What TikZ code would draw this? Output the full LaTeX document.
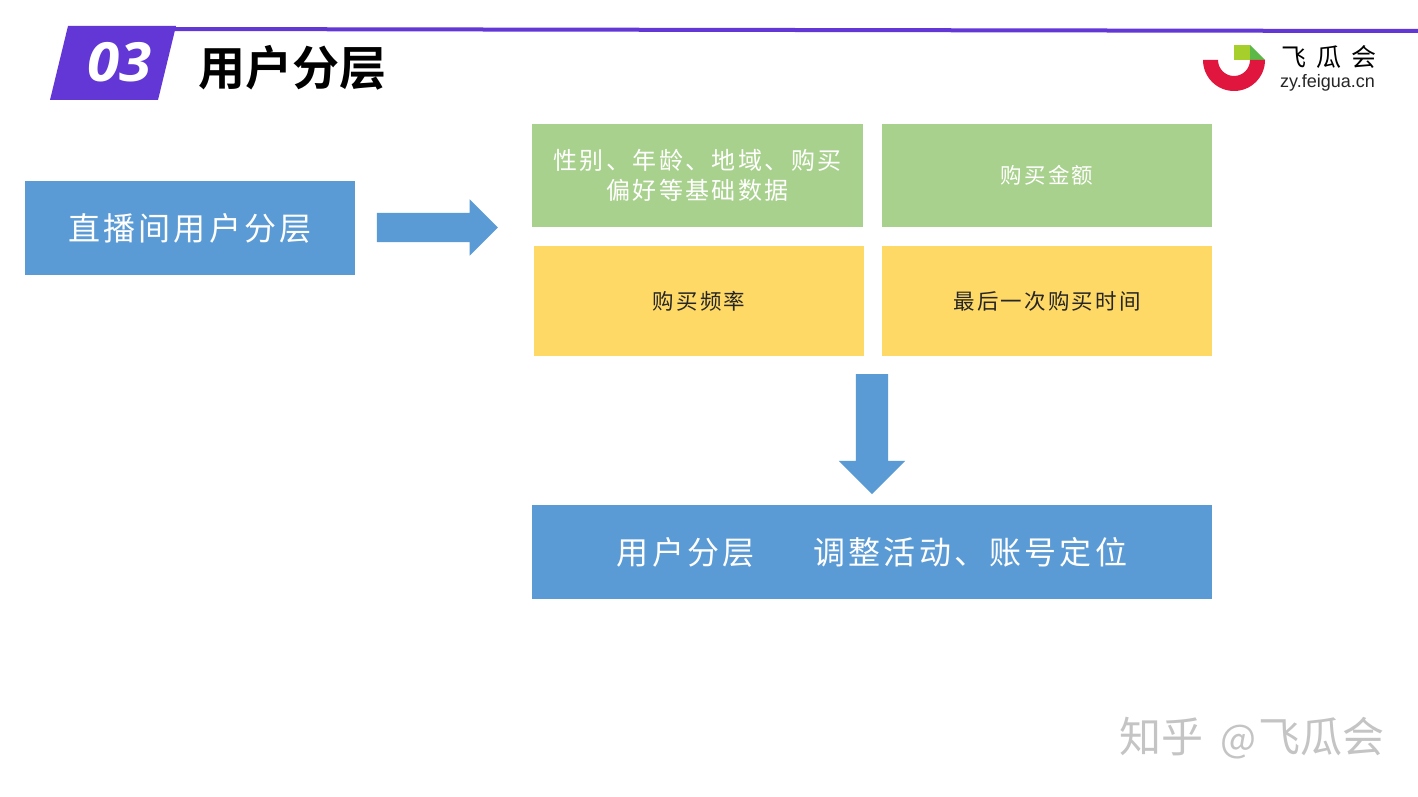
\documentclass[tikz,border=0pt]{standalone}
\usepackage{fontspec}
\usetikzlibrary{shapes.arrows}
\newfontfamily\cjk[LetterSpace=10]{Noto Sans CJK SC}
\newfontfamily\cjkbold[BoldFont=*]{Noto Sans CJK SC Bold}
\newfontfamily\cjkplain{Noto Sans CJK SC}
\newfontfamily\numfont{Open Sans}
\setmainfont{Liberation Sans}
\definecolor{barpurple}{HTML}{6237D6}
\definecolor{boxblue}{HTML}{5B9BD5}
\definecolor{boxgreen}{HTML}{A9D18E}
\definecolor{boxyellow}{HTML}{FFD966}
\definecolor{logored}{HTML}{E0163F}
\definecolor{logolime}{HTML}{A6CF2B}
\definecolor{logogreen}{HTML}{5DB947}
\definecolor{markgray}{HTML}{C4C4C4}
\tikzset{
  blockbox/.style={inner sep=0pt,outer sep=0pt,align=center,text=white},
  bluebox/.style={blockbox,fill=boxblue,font=\cjk\fontsize{32}{38}\selectfont},
  greenbox/.style={blockbox,fill=boxgreen,font=\cjk\fontsize{24}{30}\selectfont},
  yellowbox/.style={blockbox,fill=boxyellow,text=black!85,font=\cjk\fontsize{21.5}{26}\selectfont},
  blockarrow/.style={single arrow,fill=boxblue,inner sep=0pt,outer sep=0pt,single arrow tip angle=90},
}
\begin{document}
\begin{tikzpicture}[x=1pt,y=-1pt]

\useasboundingbox (0,0) rectangle (1418,797);
\fill[white] (0,0) rectangle (1418,797);

%Top bar
\fill[barpurple] (170,27) -- (1418,29) -- (1418,33) -- (170,31) -- cycle;
\fill[barpurple] (68,26) -- (176,26) -- (158,100) -- (50,100) -- cycle;
\node[text=white,xscale=1.08,font=\numfont\fontsize{54}{60}\selectfont\bfseries\itshape] (num) at (119.5,62) {03};
\node[text=black,font=\cjkbold\fontsize{47}{54}\selectfont] (title) at (292,68) {用户分层};

%Logo
\fill[logolime] (1234,45) -- (1250,45) -- (1250,60) -- (1234,60) -- cycle;
\fill[logogreen] (1250,45) -- (1265,60) -- (1250,60) -- cycle;
\fill[logored] (1203,60) -- (1218,60) arc (180:0:16) -- (1265,60) arc (0:180:31) -- cycle;
\node[text=black,font=\cjkplain\fontsize{25}{30}\selectfont] (logoname) at (1328.5,57) {飞\hspace{10pt}瓜\hspace{10pt}会};
\node[text=black!85,font=\fontsize{18}{20}\selectfont] (logourl) at (1327.5,83) {zy.feigua.cn};

%Left box
\node[bluebox,minimum width=330pt,minimum height=94pt] (live) at (190,228) {直播间用户分层};

%Arrow to the right
\node[blockarrow,minimum height=121pt,minimum width=56pt,single arrow head extend=13.5pt] (arrowa) at (430,227.5) {\rule{0pt}{29pt}};

%Four boxes
\node[greenbox,minimum width=331pt,minimum height=103pt] (basic) at (697.5,175.5) {性别、年龄、地域、购买\\偏好等基础数据};
\node[greenbox,font=\cjk\fontsize{21.5}{26}\selectfont,minimum width=330pt,minimum height=103pt] (amount) at (1047,175.5) {购买金额};
\node[yellowbox,minimum width=330pt,minimum height=110pt] (freq) at (699,301) {购买频率};
\node[yellowbox,minimum width=330pt,minimum height=110pt] (last) at (1047,301) {最后一次购买时间};

%Arrow going down
\node[blockarrow,rotate=-90,minimum height=120pt,minimum width=66pt,single arrow head extend=17pt] (arrowb) at (872,426) {\rule{0pt}{32pt}};

%Bottom box
\node[bluebox,minimum width=680pt,minimum height=94pt] (adjust) at (872,552) {用户分层\hspace{59pt}调整活动、账号定位};

%Watermark
\node[text=markgray,font=\cjkplain\fontsize{42}{50}\selectfont] (mark) at (1252,738) {知乎\hspace{17pt}{\fontsize{38}{50}\selectfont @}\hspace{3pt}飞瓜会};

\end{tikzpicture}
\end{document}
